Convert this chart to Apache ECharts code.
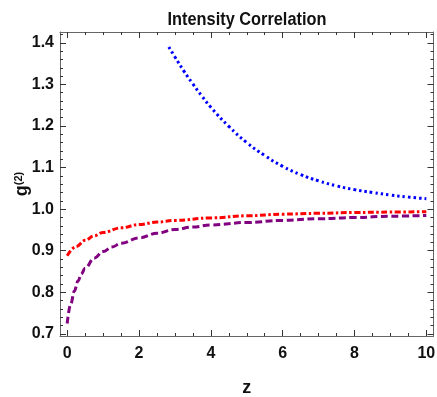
<!DOCTYPE html>
<html>
<head>
<meta charset="utf-8">
<script src="https://cdn.jsdelivr.net/npm/echarts@6/dist/echarts.min.js"></script>
<style>
html,body{margin:0;padding:0;background:#fff;}
#chart{width:437px;height:397px;}
</style>
</head>
<body>
<div id="chart"></div>
<script>
// ---- data ----
const titleText = 'Intensity Correlation';
const xName = 'z';
const xMajorTicks = [0, 2, 4, 6, 8, 10];
const yMajorTicks = [0.7, 0.8, 0.9, 1.0, 1.1, 1.2, 1.3, 1.4];

const blueZ = [2.83, 3.0, 3.25, 3.5, 3.75, 4.0, 4.5, 5.0, 5.5, 6.0, 6.5, 7.0, 7.5, 8.0, 8.5, 9.0, 9.5, 10.0];
const blueG = [1.390, 1.366, 1.332, 1.301, 1.272, 1.245, 1.199, 1.160, 1.129, 1.103, 1.083, 1.068, 1.056, 1.047, 1.040, 1.034, 1.029, 1.025];

const redZ = [0, 0.25, 0.5, 0.75, 1, 1.5, 2, 2.5, 3, 4, 5, 6, 7, 8, 9, 10];
const redG = [0.888, 0.910, 0.925, 0.936, 0.944, 0.955, 0.963, 0.969, 0.973, 0.979, 0.984, 0.988, 0.990, 0.992, 0.993, 0.994];

const purpleZ = [0, 0.1, 0.2, 0.3, 0.4, 0.5, 0.75, 1.0, 1.25, 1.5, 2, 2.5, 3, 3.5, 4, 5, 6, 7, 8, 9, 10];
const purpleG = [0.725, 0.772, 0.803, 0.827, 0.845, 0.858, 0.882, 0.898, 0.909, 0.918, 0.931, 0.942, 0.951, 0.957, 0.962, 0.968, 0.973, 0.977, 0.980, 0.983, 0.985];

// ---- build ----
const zip = (a, b) => a.map((v, i) => [v, b[i]]);
const xMinor = [];
for (let i = 0; i <= 20; i++) { const v = i * 0.5; if (i % 4 !== 0) xMinor.push(v); }
const yMinor = [];
for (let i = 35; i <= 71; i++) { const v = +(i * 0.02).toFixed(2); if (i % 5 !== 0) yMinor.push(v); }

const FONT = '"Liberation Sans", Arial, sans-serif';
const frameColor = '#666';
const tickColor = '#333';
const X_MIN = -0.2, X_MAX = 10.2, Y_MIN = 0.695, Y_MAX = 1.426;

function xAx(pos, ticks, len, labels, line) {
  return {
    type: 'value', min: X_MIN, max: X_MAX, position: pos,
    axisLine: { show: line, onZero: false, lineStyle: { color: frameColor, width: 1 } },
    axisTick: { show: true, inside: true, length: len, customValues: ticks, lineStyle: { color: tickColor, width: 1 } },
    axisLabel: labels ? { show: true, customValues: ticks, margin: 10, color: '#111', fontFamily: FONT, fontWeight: 'bold', fontSize: 16 } : { show: false },
    splitLine: { show: false }
  };
}
function yAx(pos, ticks, len, labels, line) {
  return {
    type: 'value', min: Y_MIN, max: Y_MAX, position: pos,
    axisLine: { show: line, onZero: false, lineStyle: { color: frameColor, width: 1 } },
    axisTick: { show: true, inside: true, length: len, customValues: ticks, lineStyle: { color: tickColor, width: 1 } },
    axisLabel: labels ? { show: true, customValues: ticks, margin: 6, color: '#111', fontFamily: FONT, fontWeight: 'bold', fontSize: 16,
      formatter: v => v.toFixed(1) } : { show: false },
    splitLine: { show: false }
  };
}

const xAxes = [
  Object.assign(xAx('bottom', xMajorTicks, 6, true, true), {
    name: xName, nameLocation: 'middle', nameGap: 43, nameMoveOverlap: false,
    nameTextStyle: { fontFamily: FONT, fontWeight: 'bold', fontSize: 18, color: '#111' }
  }),
  xAx('bottom', xMinor, 3, false, false),
  xAx('top', xMajorTicks, 6, false, true),
  xAx('top', xMinor, 3, false, false)
];
const yAxes = [
  Object.assign(yAx('left', yMajorTicks, 6, true, true), {
    name: '{g|g}{s|(2)}', nameLocation: 'middle', nameGap: 28, nameRotate: 90, nameMoveOverlap: false,
    nameTextStyle: { rich: {
      g: { fontFamily: FONT, fontWeight: 'bold', fontSize: 18, color: '#111' },
      s: { fontFamily: FONT, fontWeight: 'bold', fontSize: 11, color: '#111', verticalAlign: 'top', padding: [0, 0, 8, 0] }
    } }
  }),
  yAx('left', yMinor, 3, false, false),
  yAx('right', yMajorTicks, 6, false, true),
  yAx('right', yMinor, 3, false, false)
];

const chart = echarts.init(document.getElementById('chart'), null, { renderer: 'canvas' });
chart.setOption({
  animation: false,
  backgroundColor: '#fff',
  graphic: [{
    type: 'text', x: 247, y: 20, scaleX: 0.86, originX: 0, originY: 0,
    style: { text: titleText, align: 'center', verticalAlign: 'middle',
      font: 'bold 19px "Liberation Sans", Arial, sans-serif', fill: '#111' }
  }],
  grid: { left: 60, right: 3.5, top: 32, bottom: 61, containLabel: false, outerBoundsMode: 'none' },
  xAxis: xAxes,
  yAxis: yAxes,
  series: [
    { type: 'line', data: zip(blueZ, blueG), showSymbol: false, symbol: 'none', smooth: 0.5,
      lineStyle: { color: '#0000ff', width: 3, type: [2.5, 3], cap: 'butt' } },
    { type: 'line', data: zip(redZ, redG), showSymbol: false, symbol: 'none', smooth: 0.4, smoothMonotone: 'x',
      lineStyle: { color: '#ff0000', width: 3, type: [6, 2.5, 2.5, 2.5] } },
    { type: 'line', data: zip(purpleZ, purpleG), showSymbol: false, symbol: 'none', smooth: 0.4, smoothMonotone: 'x',
      lineStyle: { color: '#800080', width: 3, type: [7, 3.5] } }
  ]
});
</script>
</body>
</html>
